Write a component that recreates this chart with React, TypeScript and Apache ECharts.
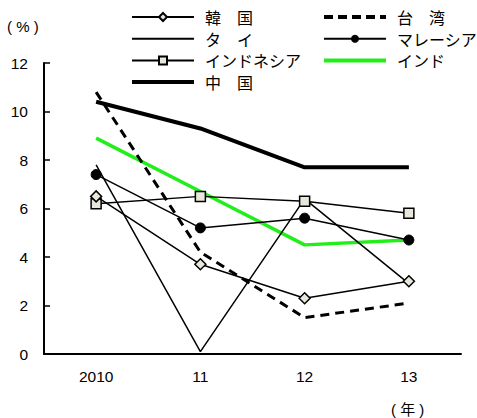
import React, { useEffect, useRef } from "react";
import * as echarts from "echarts";

const categories = ["2010", "11", "12", "13"];
const korea = [6.5, 3.7, 2.3, 3.0];
const taiwan = [10.8, 4.2, 1.5, 2.1];
const thai = [7.8, 0.1, 6.4, 2.9];
const malaysia = [7.4, 5.2, 5.6, 4.7];
const indonesia = [6.2, 6.5, 6.3, 5.8];
const india = [8.9, 6.7, 4.5, 4.7];
const china = [10.4, 9.3, 7.7, 7.7];
const yTicks = { min: 0, max: 12, interval: 2 };

const FONT = "'Liberation Sans', 'Noto Sans CJK JP', sans-serif";
const JP = "'Noto Sans CJK JP', sans-serif";
const MARKER_FILL = "#e9e7dc";
const GREEN = "#22ee1a";

export default function App() {
  const ref = useRef<HTMLDivElement>(null);
  useEffect(() => {
    document.body.style.margin = "0";
    const chart = echarts.init(ref.current!, null, { renderer: "svg" });
    const legendBase = {
      orient: "vertical" as const,
      top: 9,
      padding: 0,
      itemWidth: 62,
      itemHeight: 10,
      itemGap: 5.7,
      textStyle: { fontSize: 16, fontFamily: JP, color: "#000", lineHeight: 15, padding: [0, 0, 0, 6] },
    };
    const noSym = { itemStyle: { opacity: 0 } };
    chart.setOption({
      animation: false,
      backgroundColor: "#fff",
      grid: { left: 44, right: 16, top: 63, bottom: 64 },
      legend: [
        {
          ...legendBase, left: 130,
          data: [
            { name: "韓　国" },
            { name: "タ　イ", ...noSym },
            { name: "インドネシア" },
            { name: "中　国", ...noSym, lineStyle: { width: 4 } },
          ],
        },
        {
          ...legendBase, left: 322,
          data: [
            { name: "台　湾", ...noSym, lineStyle: { width: 4, type: [9, 5] } },
            { name: "マレーシア" },
            { name: "インド", ...noSym, lineStyle: { width: 4 } },
          ],
        },
      ],
      graphic: [
        { type: "text", left: 7, top: 19, style: { text: "( % )", fontSize: 15, fontFamily: FONT, fill: "#000" } },
        { type: "text", left: 391, top: 402, style: { text: "( 年 )", fontSize: 15, fontFamily: FONT, fill: "#000" } },
      ],
      xAxis: {
        type: "category",
        data: categories,
        boundaryGap: true,
        axisLine: { lineStyle: { color: "#000", width: 2 } },
        axisTick: { inside: true, length: 6, lineStyle: { color: "#000", width: 1.5 } },
        axisLabel: { color: "#000", fontSize: 15.5, fontFamily: FONT, margin: 15 },
      },
      yAxis: {
        type: "value",
        min: yTicks.min,
        max: yTicks.max,
        interval: yTicks.interval,
        axisLine: { show: true, lineStyle: { color: "#000", width: 2 } },
        axisTick: { show: true, inside: true, length: 6, lineStyle: { color: "#000", width: 1.5 } },
        axisLabel: { color: "#000", fontSize: 15.5, fontFamily: FONT, margin: 16 },
        splitLine: { show: false },
      },
      series: [
        {
          name: "中　国", type: "line", data: china, symbol: "none",
          lineStyle: { color: "#000", width: 4 }, itemStyle: { color: "#000" }, z: 2,
        },
        {
          name: "インド", type: "line", data: india, symbol: "none",
          lineStyle: { color: GREEN, width: 3.5 }, itemStyle: { color: GREEN }, z: 3,
        },
        {
          name: "台　湾", type: "line", data: taiwan, symbol: "none",
          lineStyle: { color: "#000", width: 3, type: [9, 6] }, itemStyle: { color: "#000" }, z: 3,
        },
        {
          name: "タ　イ", type: "line", data: thai, symbol: "none",
          lineStyle: { color: "#000", width: 1.5 }, itemStyle: { color: "#000" }, z: 4,
        },
        {
          name: "マレーシア", type: "line", data: malaysia, symbol: "circle", symbolSize: 10,
          lineStyle: { color: "#000", width: 1.5 }, itemStyle: { color: "#000", borderColor: "#000" }, z: 5,
        },
        {
          name: "インドネシア", type: "line", data: indonesia, symbol: "rect", symbolSize: 10,
          lineStyle: { color: "#000", width: 1.5 }, itemStyle: { color: MARKER_FILL, borderColor: "#000", borderWidth: 1.5 }, z: 6,
        },
        {
          name: "韓　国", type: "line", data: korea, symbol: "diamond", symbolSize: 11,
          lineStyle: { color: "#000", width: 1.5 }, itemStyle: { color: MARKER_FILL, borderColor: "#000", borderWidth: 1.5 }, z: 7,
        },
      ],
    });
    return () => chart.dispose();
  }, []);
  return <div ref={ref} style={{ width: 477, height: 418 }} />;
}
